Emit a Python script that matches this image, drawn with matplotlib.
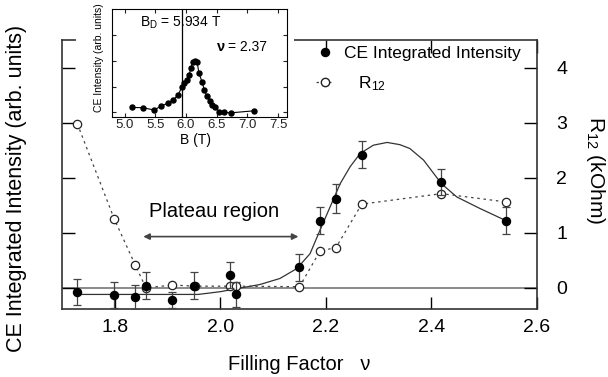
import matplotlib
matplotlib.use('Agg')
import matplotlib.pyplot as plt
from matplotlib.lines import Line2D
from matplotlib.patches import Rectangle

plt.rcParams['font.family'] = 'Liberation Sans'
plt.rcParams['mathtext.fontset'] = 'custom'
plt.rcParams['mathtext.rm'] = 'Liberation Sans'
plt.rcParams['mathtext.it'] = 'Liberation Sans:italic'

# CE integrated intensity (filled circles)
nu_ce = [1.729, 1.799, 1.839, 1.859, 1.909, 1.950, 2.018, 2.029, 2.150, 2.189, 2.219, 2.268, 2.419, 2.541]
ce = [-0.08, -0.13, -0.17, 0.04, -0.22, 0.04, 0.23, -0.12, 0.37, 1.22, 1.62, 2.42, 1.92, 1.22]
ce_err = [0.24, 0.24, 0.22, 0.24, 0.14, 0.25, 0.23, 0.22, 0.24, 0.25, 0.26, 0.24, 0.23, 0.24]

# R12 (open circles)
nu_r = [1.729, 1.799, 1.839, 1.859, 1.909, 1.952, 2.018, 2.029, 2.150, 2.189, 2.219, 2.268, 2.419, 2.541]
r12 = [2.98, 1.25, 0.41, 0.0, 0.05, 0.03, 0.03, 0.03, 0.02, 0.67, 0.73, 1.52, 1.71, 1.56]

# guide curve through the intensity points
fit_nu = [1.729, 1.958, 2.00, 2.04, 2.075, 2.113, 2.145, 2.170, 2.189, 2.208, 2.227, 2.246,
          2.265, 2.290, 2.316, 2.340, 2.359, 2.385, 2.404, 2.419, 2.448, 2.492, 2.539]
fit_ce = [-0.12, -0.12, -0.07, 0.00, 0.06, 0.17, 0.35, 0.62, 1.05, 1.47, 1.89, 2.20,
          2.44, 2.59, 2.64, 2.60, 2.53, 2.32, 2.08, 1.89, 1.65, 1.44, 1.23]

# inset: CE intensity vs field at nu = 2.37
b_field = [5.12, 5.30, 5.48, 5.60, 5.70, 5.79, 5.87, 5.93, 5.97, 6.01, 6.05, 6.08, 6.11,
           6.15, 6.18, 6.21, 6.26, 6.30, 6.34, 6.39, 6.43, 6.48, 6.54, 6.62, 6.73, 7.11]
ce_b = [0.19, 0.18, 0.09, 0.25, 0.35, 0.48, 0.67, 0.97, 1.13, 1.26, 1.45, 1.71, 1.97,
        2.01, 1.97, 1.54, 1.19, 0.87, 0.63, 0.45, 0.28, 0.19, 0.02, 0.0, -0.02, 0.06]
b_d = 5.934

W, H = 608, 377
fig = plt.figure(figsize=(W / 100, H / 100), dpi=100)
ax = fig.add_axes([62 / W, 1 - 309.3 / H, 475 / W, 269.3 / H])

ax.axhline(0, color='#777777', lw=1.2, zorder=1)
ax.plot(fit_nu, fit_ce, color='#333333', lw=0.9, zorder=2)
ax.plot(nu_r, r12, ls=(0, (2, 3)), color='#444444', lw=0.9, marker='o', ms=6,
        mfc='white', mec='#222222', mew=0.9, zorder=3)
ax.errorbar(nu_ce, ce, yerr=ce_err, fmt='o', color='black', ms=5.8, ecolor='#444444',
            elinewidth=0.9, capsize=3, capthick=0.9, zorder=4)

ax.set_xlim(1.70, 2.6)
ax.set_ylim(-0.39, 4.5)
ax.set_xticks([1.8, 2.0, 2.2, 2.4, 2.6])
ax.set_xticklabels(['1.8', '2.0', '2.2', '2.4', '2.6'])
ax.set_yticks([0, 1, 2, 3, 4])
ax.tick_params(axis='x', direction='in', top=True, length=9, width=1, pad=7, labelsize=14)
ax.tick_params(axis='y', direction='in', left=True, right=True, labelleft=False,
               labelright=True, length=9.5, width=1, pad=14, labelsize=14)
for s in ax.spines.values():
    s.set_color('#333333')
    s.set_linewidth(1.2)

ax.set_xlabel('Filling Factor   ν', fontsize=14.5, labelpad=14)
fig.text(17 / W, 1 - 188 / H, 'CE Integrated Intensity (arb. units)', rotation=90,
         ha='center', va='center', fontsize=15.5)
fig.text(596 / W, 1 - 170 / H, 'R$_{12}$ (kOhm)', rotation=-90,
         ha='center', va='center', fontsize=15)

ax.annotate('', xy=(1.854, 0.93), xytext=(2.148, 0.93),
            arrowprops=dict(arrowstyle='<|-|>', color='#444444', lw=1.2,
                            mutation_scale=9, shrinkA=0, shrinkB=0))
ax.text(1.988, 1.38, 'Plateau region', ha='center', va='center', fontsize=14.5)

handles = [Line2D([], [], ls='none', marker='o', color='black', ms=5.8),
           Line2D([], [], ls=(0, (2, 3)), color='#444444', lw=0.9, marker='o', ms=6,
                  mfc='white', mec='#222222')]
ax.legend(handles, ['CE Integrated Intensity', '   R$_{12}$'], loc='upper left',
          bbox_to_anchor=(316 / W, 1 - 46 / H), bbox_transform=fig.transFigure,
          frameon=False, borderpad=0, borderaxespad=0, handlelength=1.0,
          handletextpad=0.6, labelspacing=0.75, fontsize=12.5)

# white patch under the inset
fig.add_artist(Rectangle((76 / W, 1 - 98 / H), 218 / W, 98 / H, transform=fig.transFigure,
                         facecolor='white', edgecolor='none', zorder=1))

ins = fig.add_axes([112.3 / W, 1 - 116.7 / H, 175 / W, 107.7 / H])
ins.set_zorder(2)
ins.plot(b_field, ce_b, color='black', lw=0.8, marker='o', ms=3.6)
ins.axvline(b_d, color='black', lw=0.9)
ins.set_xlim(4.8, 7.65)
ins.set_ylim(-0.17, 4.02)
ins.set_xticks([5.0, 5.5, 6.0, 6.5, 7.0, 7.5])
ins.set_xticklabels(['5.0', '5.5', '6.0', '6.5', '7.0', '7.5'])
ins.set_yticks([0, 1, 2, 3])
ins.tick_params(direction='in', top=True, right=True, labelleft=False, length=3,
                width=0.8, pad=1.5, labelsize=9.5, colors='#222222')
for s in ins.spines.values():
    s.set_linewidth(0.8)
ins.text(0.158, 0.875, 'B$_{\\mathrm{D}}$ = 5.934 T', transform=ins.transAxes,
         ha='left', va='center', fontsize=10)
ins.text(0.597, 0.65, 'ν', transform=ins.transAxes, ha='left', va='center',
         fontsize=10.5, fontweight='bold')
ins.text(0.66, 0.65, '= 2.37', transform=ins.transAxes, ha='left', va='center', fontsize=10)
fig.text(196 / W, 1 - 140 / H, 'B (T)', ha='center', va='center', fontsize=10)
fig.text(99 / W, 1 - 58 / H, 'CE Intensity (arb. units)', rotation=90,
         ha='center', va='center', fontsize=7.5)

fig.savefig('out.png', dpi=100)
